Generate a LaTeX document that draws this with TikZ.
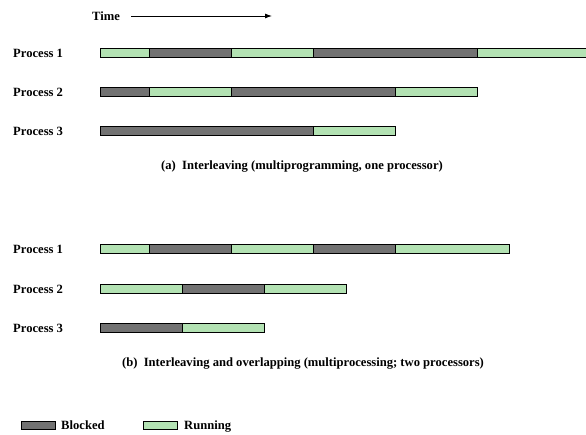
\documentclass[tikz,border=0pt]{standalone}
\usepackage{fontspec}
\setmainfont{Liberation Serif}
\usetikzlibrary{arrows.meta}
\definecolor{runfill}{HTML}{B3E2B3}
\definecolor{blockfill}{HTML}{727272}
\tikzset{
  lbl/.style={font=\bfseries\fontsize{12.6}{14}\selectfont, inner sep=0pt, anchor=base west},
  captext/.style={font=\bfseries\fontsize{12.6}{14}\selectfont, inner sep=0pt},
  run/.style={draw=black, line width=0.8pt, fill=runfill},
  blk/.style={draw=black, line width=0.8pt, fill=blockfill},
}
% \seg{top y}{start}{end}{style}: one bar segment
\newcommand\seg[4]{\path[#4] (#2,#1) rectangle (#3,#1+9);}
\begin{document}
\begin{tikzpicture}[x=1pt,y=-1pt]
\useasboundingbox (0,0) rectangle (586,434);
\clip (0,0) rectangle (586,434);

% time axis
\node[lbl] (time) at (92,20.3) {Time};
\coordinate (timeend) at (272,16);
\draw[line width=0.9pt,-{Latex[length=7pt,width=5pt]}] (131,16) -- (timeend);

% (a) one processor
\node[lbl] (a1) at (13,57.3) {Process 1};
\node[lbl] (a2) at (13,96.3) {Process 2};
\node[lbl] (a3) at (13,135.3) {Process 3};
\seg{48}{100}{149}{run}\seg{48}{149}{231}{blk}\seg{48}{231}{313}{run}\seg{48}{313}{477}{blk}\seg{48}{477}{600}{run}
\seg{87}{100}{149}{blk}\seg{87}{149}{231}{run}\seg{87}{231}{395}{blk}\seg{87}{395}{477}{run}
\seg{126}{100}{313}{blk}\seg{126}{313}{395}{run}
\node[captext] (capa) at (302,167) {(a)\enspace Interleaving (multiprogramming, one processor)};

% (b) two processors
\node[lbl] (b1) at (13,253.3) {Process 1};
\node[lbl] (b2) at (13,293.3) {Process 2};
\node[lbl] (b3) at (13,332.3) {Process 3};
\seg{244}{100}{149}{run}\seg{244}{149}{231}{blk}\seg{244}{231}{313}{run}\seg{244}{313}{395}{blk}\seg{244}{395}{509}{run}
\seg{284}{100}{182}{run}\seg{284}{182}{264}{blk}\seg{284}{264}{346}{run}
\seg{323}{100}{182}{blk}\seg{323}{182}{264}{run}
\node[captext] (capb) at (303,364) {(b)\enspace Interleaving and overlapping (multiprocessing; two processors)};

% legend
\path[blk] (21,421) rectangle (55,429);
\node[lbl] (lblk) at (61,429.3) {Blocked};
\path[run] (143,421) rectangle (177,429);
\node[lbl] (lrun) at (184,429.3) {Running};
\end{tikzpicture}
\end{document}
